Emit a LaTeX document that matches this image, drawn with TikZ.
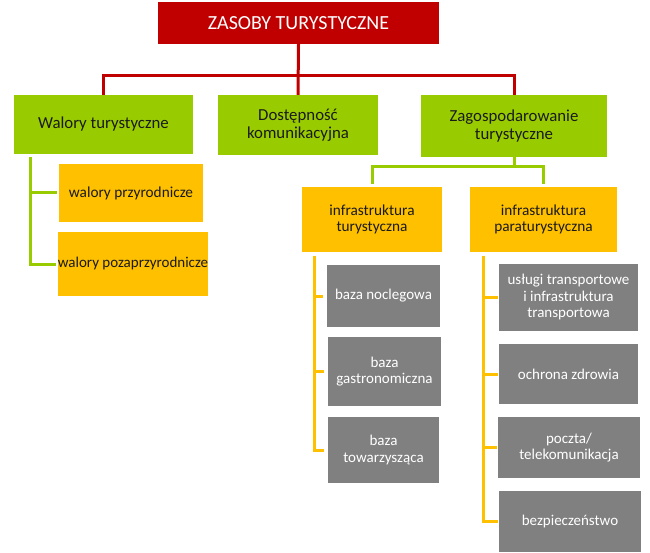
\documentclass[tikz,border=0pt]{standalone}
\usepackage{fontspec}
\setmainfont{Carlito}
\definecolor{cred}{HTML}{C00000}
\definecolor{cgreen}{HTML}{99CC00}
\definecolor{corange}{HTML}{FFC000}
\definecolor{cgray}{HTML}{808080}
\definecolor{ctext}{HTML}{1A1A1A}
\tikzset{
  box/.style={inner sep=0pt, align=center, anchor=center},
  titlebox/.style={box, fill=cred, text=white, font=\fontsize{20}{22}\selectfont},
  greenbox/.style={box, fill=cgreen, text=ctext, font=\fontsize{16.8}{17.7}\selectfont},
  orangebox/.style={box, fill=corange, text=ctext, font=\fontsize{15.3}{16}\selectfont},
  graybox/.style={box, fill=cgray, text=white, font=\fontsize{15}{16.5}\selectfont},
  redline/.style={draw=cred, line width=3pt},
  greenline/.style={draw=cgreen, line width=3pt},
  yellowline/.style={draw=corange, line width=3pt},
}
\begin{document}
\begin{tikzpicture}[x=1pt,y=-1pt]
\path[use as bounding box] (0,0) rectangle (650,553);
% boxes
\node[titlebox, minimum width=281pt, minimum height=42pt] (title) at (298.5,23) {ZASOBY TURYSTYCZNE};
\node[greenbox, minimum width=179pt, minimum height=59pt] (walory) at (103.5,124.5) {Walory turystyczne};
\node[greenbox, minimum width=160pt, minimum height=60pt] (dostep) at (298,125) {Dostępność\\komunikacyjna};
\node[greenbox, minimum width=186pt, minimum height=62pt] (zagosp) at (514,126) {Zagospodarowanie\\turystyczne};
\node[orangebox, minimum width=144pt, minimum height=58pt] (przyr) at (131,193) {walory przyrodnicze};
\node[orangebox, minimum width=148pt, minimum height=64pt, font=\fontsize{15}{16}\selectfont] (pozap) at (133,264) {walory pozaprzyrodnicze};
\node[orangebox, minimum width=140pt, minimum height=65pt] (infT) at (372,219.5) {infrastruktura\\turystyczna};
\node[orangebox, minimum width=147pt, minimum height=65pt] (infP) at (543.5,219.5) {infrastruktura\\paraturystyczna};
\node[graybox, minimum width=113pt, minimum height=62pt] (nocl) at (383.5,296) {baza noclegowa};
\node[graybox, minimum width=113pt, minimum height=69pt] (gastr) at (384.5,371.5) {baza\\gastronomiczna};
\node[graybox, minimum width=111pt, minimum height=66pt] (towarz) at (383.5,450) {baza\\towarzysząca};
\node[graybox, minimum width=139pt, minimum height=67pt] (uslugi) at (568.5,297.5) {usługi transportowe\\i infrastruktura\\transportowa};
\node[graybox, minimum width=139pt, minimum height=60pt] (ochrona) at (568.5,374) {ochrona zdrowia};
\node[graybox, minimum width=142pt, minimum height=61pt] (poczta) at (569,447.5) {poczta/\\telekomunikacja};
\node[graybox, minimum width=142pt, minimum height=61pt] (bezp) at (570,521.5) {bezpieczeństwo};
% red connectors
\coordinate (rbus) at (298,75.5);
\draw[redline] (title.south) -- (dostep.north);
\draw[redline] (walory.north) |- (rbus) -| (zagosp.north);
% green connectors
\coordinate (wtop) at (30,157);
\draw[greenline, shorten >=2pt] (wtop) |- (przyr.west);
\draw[greenline, shorten >=2pt] (wtop) |- (pozap.west);
\coordinate (zbus) at (514,167);
\draw[greenline] (zagosp.south) -- (zbus);
\draw[greenline, shorten >=3pt] (zbus) -| (infT.north);
\draw[greenline, shorten >=3pt] (zbus) -| (infP.north);
% yellow connectors
\coordinate (ltop) at (314,256);
\draw[yellowline, shorten >=4pt] (ltop) |- (nocl.west);
\draw[yellowline, shorten >=4pt] (ltop) |- (gastr.west);
\draw[yellowline, shorten >=4pt] (ltop) |- (towarz.west);
\coordinate (rtop) at (483,256);
\draw[yellowline, shorten >=1pt] (rtop) |- (uslugi.west);
\draw[yellowline, shorten >=1pt] (rtop) |- (ochrona.west);
\draw[yellowline, shorten >=1pt] (rtop) |- (poczta.west);
\draw[yellowline, shorten >=1pt] (rtop) |- (bezp.west);
\end{tikzpicture}
\end{document}
